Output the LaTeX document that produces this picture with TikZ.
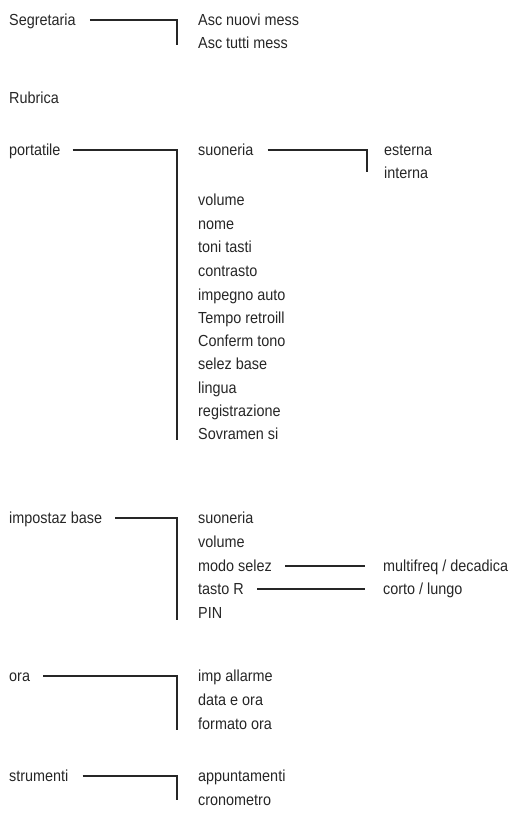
\documentclass[tikz,border=0pt]{standalone}
\usepackage{fontspec}
\setmainfont[FakeStretch=0.9]{Liberation Sans}
\begin{document}
\begin{tikzpicture}[x=1pt,y=-1pt,
  lbl/.style={anchor=base west,inner sep=0pt,text=black!85,font=\fontsize{16}{18}\selectfont},
  conn/.style={line width=1.2pt,black!85}]
\useasboundingbox (0,0) rectangle (511,814);
% Segretaria
\node[lbl] (seg) at (9,25) {Segretaria};
\node[lbl] (seg1) at (198,25) {Asc nuovi mess};
\node[lbl] (seg2) at (198,48) {Asc tutti mess};
\coordinate (cseg) at (177,20);
\coordinate (eseg) at (177,45);
\draw[conn] ([xshift=14pt]seg.east |- cseg) -- (cseg) -- (eseg);
% Rubrica
\node[lbl] (rub) at (9,103) {Rubrica};
% portatile
\node[lbl] (port) at (9,155) {portatile};
\node[lbl] (p1) at (198,155) {suoneria};
\node[lbl] (p1a) at (384,155) {esterna};
\node[lbl] (p1b) at (384,178) {interna};
\node[lbl] (p2) at (198,205) {volume};
\node[lbl] (p3) at (198,229) {nome};
\node[lbl] (p4) at (198,252) {toni tasti};
\node[lbl] (p5) at (198,276) {contrasto};
\node[lbl] (p6) at (198,300) {impegno auto};
\node[lbl] (p7) at (198,323) {Tempo retroill};
\node[lbl] (p8) at (198,346) {Conferm tono};
\node[lbl] (p9) at (198,369) {selez base};
\node[lbl] (p10) at (198,393) {lingua};
\node[lbl] (p11) at (198,416) {registrazione};
\node[lbl] (p12) at (198,439) {Sovramen si};
\coordinate (cport) at (177,150);
\coordinate (eport) at (177,440);
\draw[conn] ([xshift=12pt]port.east |- cport) -- (cport) -- (eport);
\coordinate (csuo) at (367,150);
\coordinate (esuo) at (367,172);
\draw[conn] ([xshift=14pt]p1.east |- csuo) -- (csuo) -- (esuo);
% impostaz base
\node[lbl] (imp) at (9,523) {impostaz base};
\node[lbl] (i1) at (198,523) {suoneria};
\node[lbl] (i2) at (198,547) {volume};
\node[lbl] (i3) at (198,571) {modo selez};
\node[lbl] (i3a) at (383,571) {multifreq / decadica};
\node[lbl] (i4) at (198,594) {tasto R};
\node[lbl] (i4a) at (383,594) {corto / lungo};
\node[lbl] (i5) at (198,618) {PIN};
\coordinate (cimp) at (177,518);
\coordinate (eimp) at (177,620);
\draw[conn] ([xshift=13pt]imp.east |- cimp) -- (cimp) -- (eimp);
\draw[conn] ([xshift=13pt]i3.east |- 0,566) -- ([xshift=-18pt]i3a.west |- 0,566);
\draw[conn] ([xshift=13pt]i4.east |- 0,589) -- ([xshift=-18pt]i4a.west |- 0,589);
% ora
\node[lbl] (ora) at (9,681) {ora};
\node[lbl] (o1) at (198,681) {imp allarme};
\node[lbl] (o2) at (198,705) {data e ora};
\node[lbl] (o3) at (198,729) {formato ora};
\coordinate (cora) at (177,676);
\coordinate (eora) at (177,730);
\draw[conn] ([xshift=13pt]ora.east |- cora) -- (cora) -- (eora);
% strumenti
\node[lbl] (str) at (9,781) {strumenti};
\node[lbl] (s1) at (198,781) {appuntamenti};
\node[lbl] (s2) at (198,805) {cronometro};
\coordinate (cstr) at (177,776);
\coordinate (estr) at (177,800);
\draw[conn] ([xshift=14pt]str.east |- cstr) -- (cstr) -- (estr);
\end{tikzpicture}
\end{document}
